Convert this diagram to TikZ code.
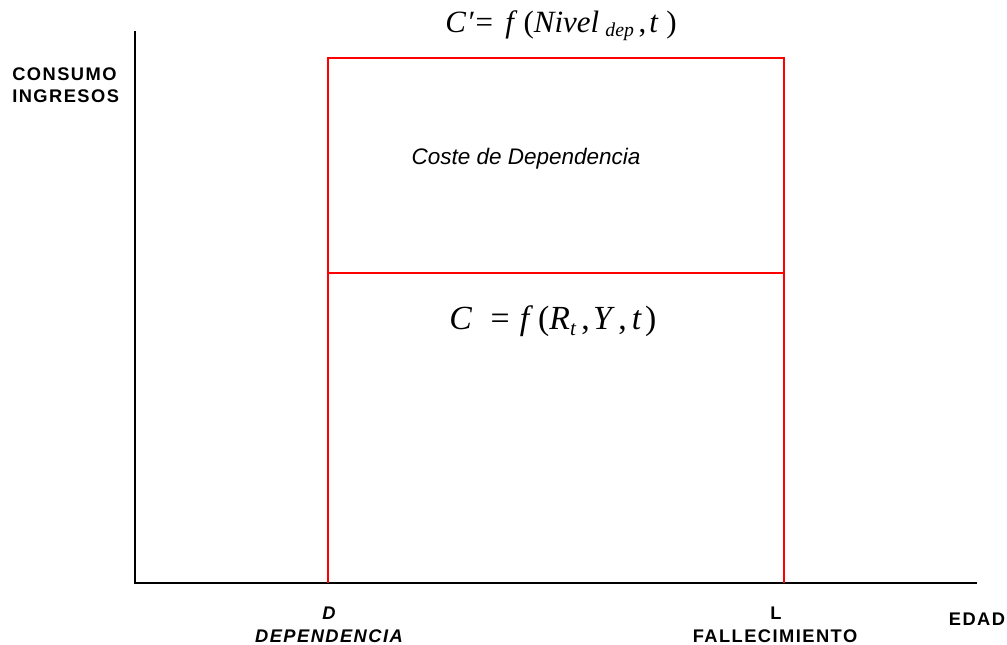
\documentclass[tikz,border=0pt]{standalone}
\usepackage{fontspec}
\setmainfont{Liberation Serif}
\setsansfont{Liberation Sans}
\usepackage{xcolor}
\usepackage{tikz}
\usetikzlibrary{positioning,calc}
\definecolor{AxisBlack}{HTML}{000000}
\definecolor{PhaseRed}{HTML}{FF0000}

\begin{document}
\begin{tikzpicture}[x=0.025cm, y=-0.025cm,
    axisline/.style={draw=AxisBlack, line width=1.3pt},
    phaseline/.style={draw=PhaseRed, line width=1.5pt},
    axislabel/.style={font=\sffamily\bfseries\fontsize{13}{15}\selectfont\addfontfeature{LetterSpace=8}, inner sep=0pt},
    formula/.style={font=\rmfamily\fontsize{22}{25}\selectfont, inner sep=0pt, anchor=base west}]
  \useasboundingbox (0,0) rectangle (1007,645);

  % Axes
  \coordinate (origin) at (135,583);
  \coordinate (ytop) at (135,31);
  \coordinate (xend) at (977,583);
  \draw[axisline] (ytop) -- (origin) -- (xend);

  % Dependence and death stages
  \coordinate (Dbase) at (328,583);
  \coordinate (Lbase) at (784,583);
  \coordinate (Dtop) at (328,58);
  \coordinate (Ltop) at (784,58);
  \coordinate (Dmid) at (328,273);
  \coordinate (Lmid) at (784,273);
  \draw[phaseline] (Dbase) -- (Dtop) -- (Ltop) -- (Lbase);
  \draw[phaseline] (Dmid) -- (Lmid);

  % Formulas
  \node[formula] (ctop) at (445,32) {\textit{C}\kern0.02em\textit{′}\kern0.05em=\kern0.4em\textit{f}\kern0.2em(\textit{Nivel}\kern0.2em\raisebox{-0.3ex}{\fontsize{14}{14}\selectfont\textit{dep}}\kern0.15em,\kern0.1em\textit{t}\kern0.25em)};
  \node[formula, font=\rmfamily\fontsize{24}{27}\selectfont] (cbase) at (449,329) {\textit{C}\kern0.55em=\kern0.3em\textit{f}\kern0.15em(\textit{R}\raisebox{-0.4ex}{\fontsize{15}{15}\selectfont\textit{t}}\kern0.15em,\kern0.1em\textit{Y}\kern0.1em,\kern0.15em\textit{t}\kern0.1em)};
  \node[font=\sffamily\itshape\fontsize{16}{18}\selectfont, inner sep=0pt, anchor=base] (coste) at (526,164) {Coste de Dependencia};

  % Axis labels
  \node[axislabel, anchor=base west] (consumo) at (12,80) {CONSUMO};
  \node[axislabel, anchor=base west] (ingresos) at (12,102) {INGRESOS};
  \node[axislabel, anchor=base] (edad) at (977,625) {EDAD};
  \node[axislabel, anchor=base, font=\sffamily\bfseries\itshape\fontsize{13}{15}\selectfont\addfontfeature{LetterSpace=8}] (dlabel) at (329,619) {D};
  \node[axislabel, anchor=base, font=\sffamily\bfseries\itshape\fontsize{13}{15}\selectfont\addfontfeature{LetterSpace=8}] (dependencia) at (329,642) {DEPENDENCIA};
  \node[axislabel, anchor=base] (llabel) at (776,619) {L};
  \node[axislabel, anchor=base] (fallecimiento) at (775,642) {FALLECIMIENTO};
\end{tikzpicture}
\end{document}
